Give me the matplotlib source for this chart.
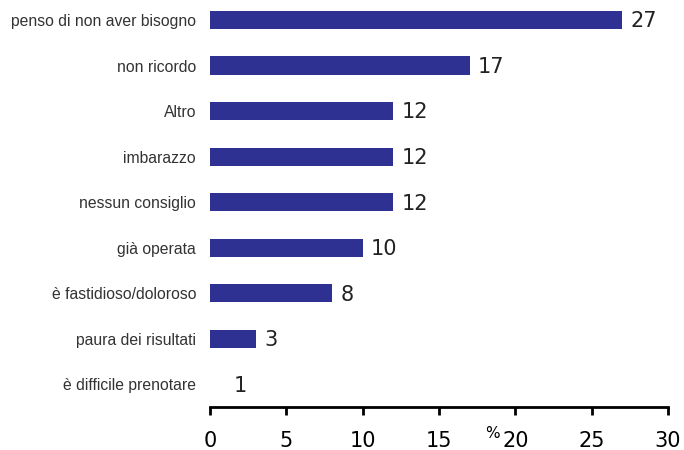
import matplotlib
matplotlib.use("Agg")
import matplotlib.pyplot as plt

categories = ["penso di non aver bisogno", "non ricordo", "Altro", "imbarazzo",
              "nessun consiglio", "già operata", "è fastidioso/doloroso",
              "paura dei risultati", "è difficile prenotare"]
values = [27, 17, 12, 12, 12, 10, 8, 3, 1]
xticks = [0, 5, 10, 15, 20, 25, 30]

fig = plt.figure(figsize=(6.84, 4.50), dpi=100)
ax = fig.add_axes([210 / 684, 43 / 450, 458 / 684, 407 / 450])

# the smallest bar is not drawn in the original, only its label
colors = ["#2e3192"] * len(values)
colors[-1] = "none"
ypos = list(range(len(values)))
ax.barh(ypos, values, height=0.4, color=colors)

for y, v in zip(ypos, values):
    ax.text(v + 0.55, y + 0.03, str(v), va="center", ha="left", fontsize=15,
            family="DejaVu Sans", color="#222222")

ax.set_xlim(0, 30)
ax.set_ylim(8.5, -0.44)
ax.set_yticks(ypos)
ax.set_yticklabels(categories, family="Liberation Sans", fontsize=11.3, color="#333333")
ax.tick_params(axis="y", length=0, pad=10)
ax.set_xticks(xticks)
ax.set_xticklabels([str(t) for t in xticks], fontsize=15, family="DejaVu Sans")
ax.tick_params(axis="x", length=6, width=2, pad=11)

for s in ["top", "right", "left"]:
    ax.spines[s].set_visible(False)
ax.spines["bottom"].set_linewidth(2)

ax.text(0.616, -0.065, "%", transform=ax.transAxes, fontsize=11,
        family="DejaVu Sans", ha="center", va="center")

fig.savefig("out.png", dpi=100)
